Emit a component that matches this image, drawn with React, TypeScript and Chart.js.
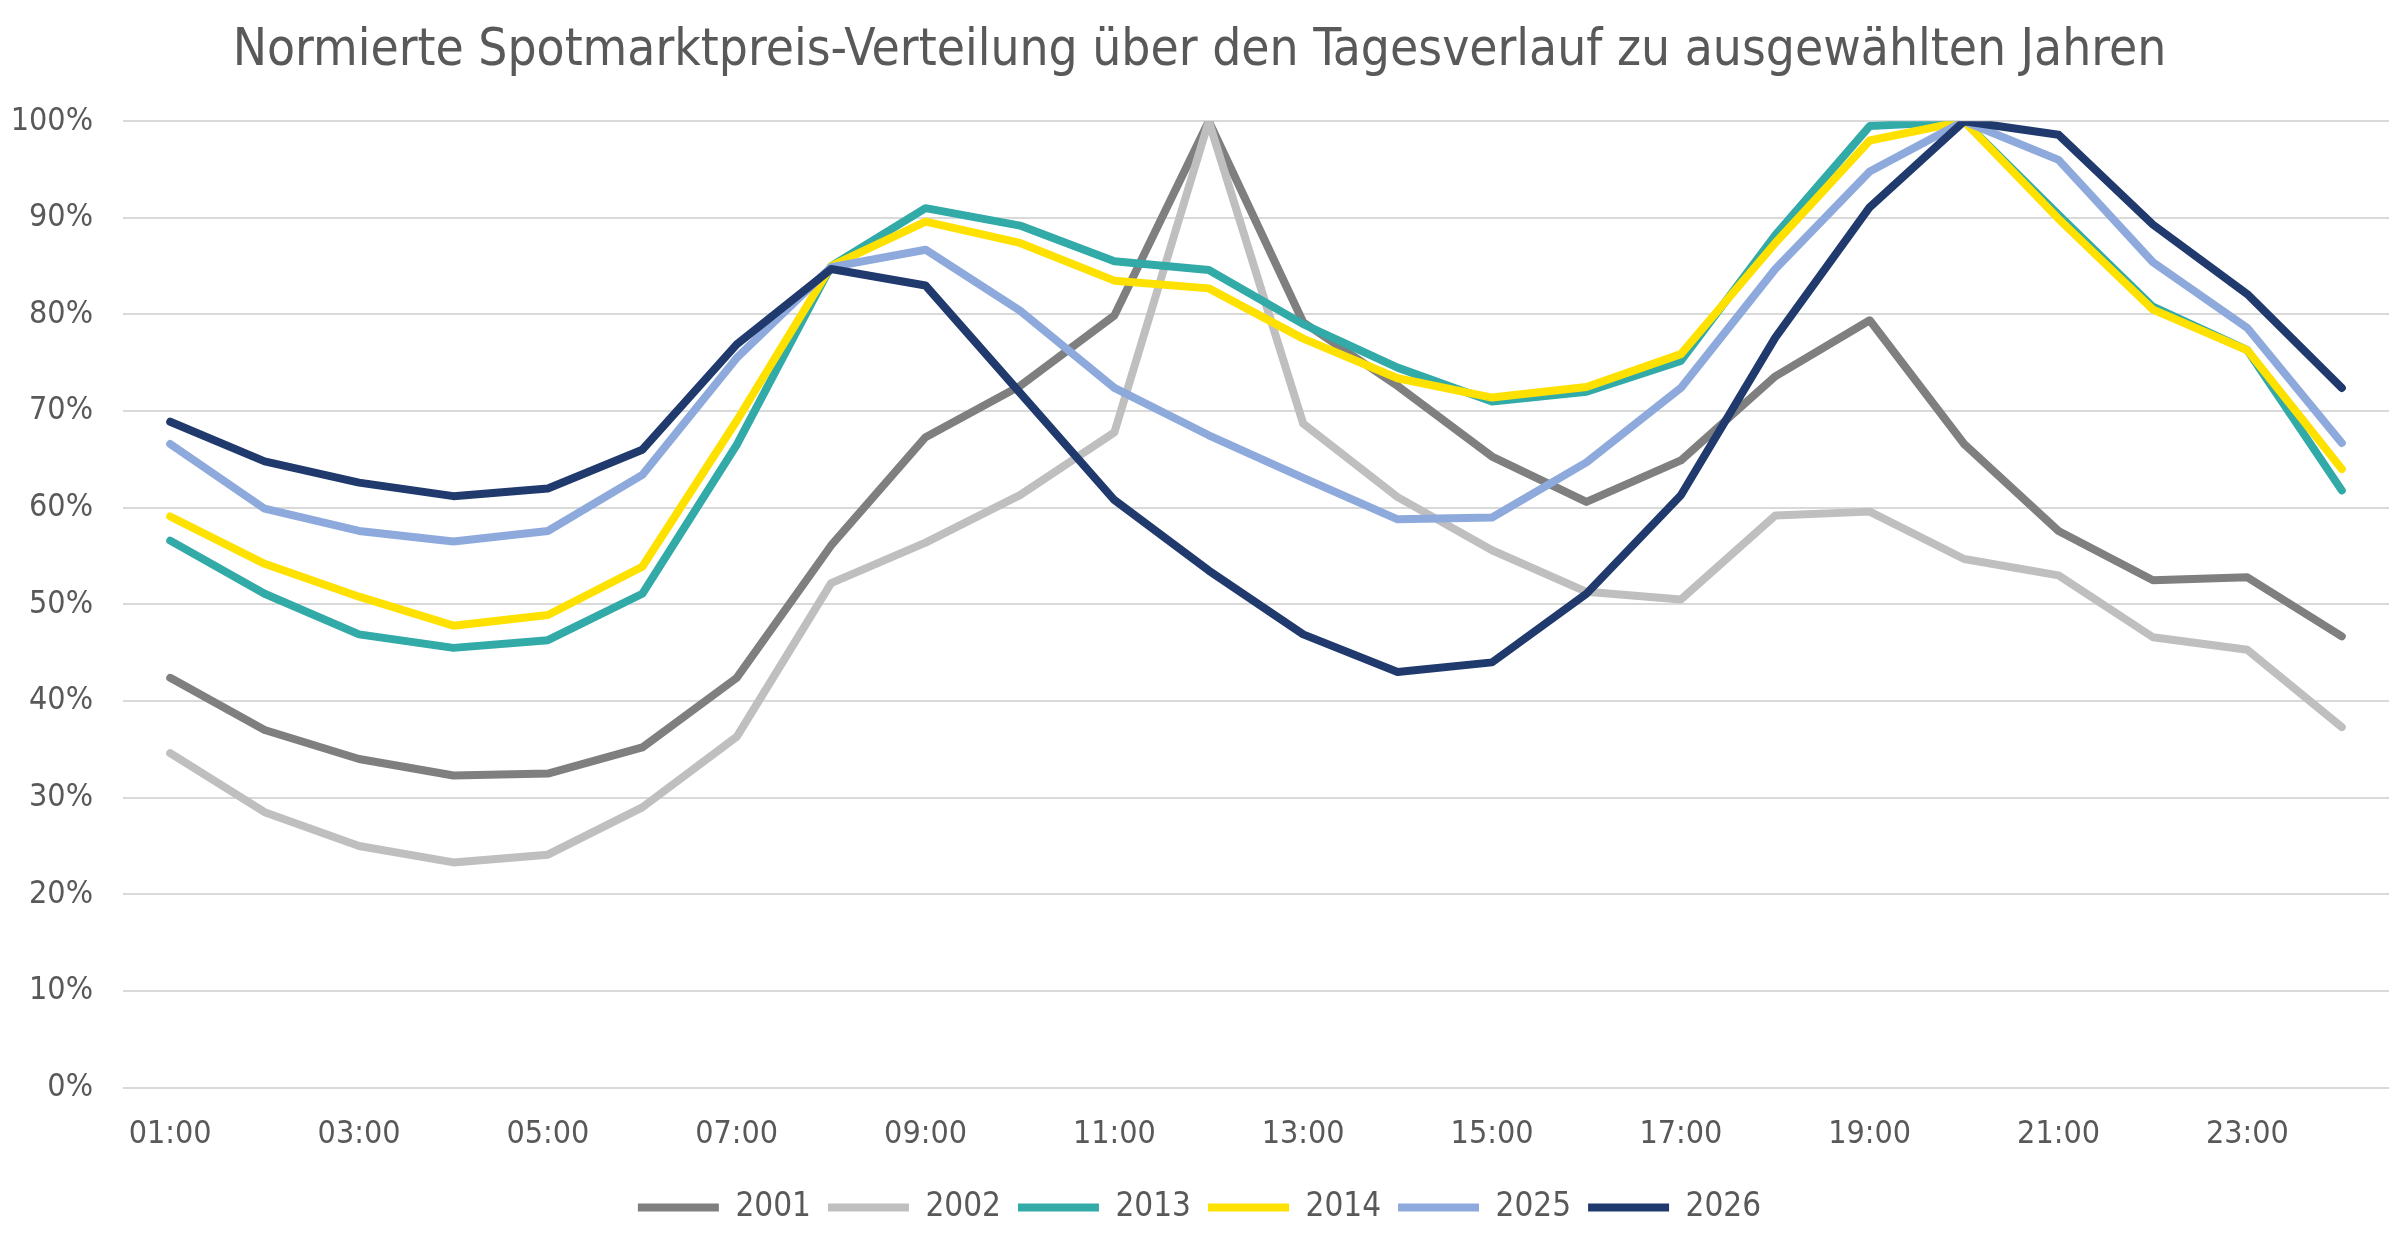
import React, { useEffect, useRef } from "react";
import { Chart, registerables } from "chart.js";

Chart.register(...registerables);

const hours = [
  "01:00", "02:00", "03:00", "04:00", "05:00", "06:00", "07:00", "08:00",
  "09:00", "10:00", "11:00", "12:00", "13:00", "14:00", "15:00", "16:00",
  "17:00", "18:00", "19:00", "20:00", "21:00", "22:00", "23:00", "24:00",
];

const years = ["2001", "2002", "2013", "2014", "2025", "2026"];

const v2001 = [42.4, 37.0, 34.0, 32.3, 32.5, 35.2, 42.4, 56.1, 67.3, 72.6, 79.9, 100, 79.2, 72.6, 65.3, 60.6, 64.9, 73.6, 79.4, 66.6, 57.6, 52.5, 52.8, 46.7];
const v2002 = [34.6, 28.5, 25.0, 23.3, 24.1, 29.0, 36.3, 52.2, 56.4, 61.3, 67.8, 100, 68.7, 61.1, 55.6, 51.3, 50.5, 59.2, 59.6, 54.7, 53.0, 46.6, 45.3, 37.3];
const v2013 = [56.6, 51.1, 46.9, 45.5, 46.3, 51.1, 66.5, 85.0, 91.0, 89.2, 85.5, 84.6, 79.0, 74.5, 71.0, 72.0, 75.2, 88.2, 99.5, 100, 90.3, 80.8, 76.3, 61.8];
const v2014 = [59.1, 54.2, 50.8, 47.8, 48.9, 53.9, 69.0, 85.0, 89.6, 87.4, 83.5, 82.7, 77.5, 73.4, 71.4, 72.5, 75.9, 87.4, 98.0, 100, 89.9, 80.5, 76.3, 64.0];
const v2025 = [66.6, 59.9, 57.6, 56.5, 57.6, 63.4, 75.5, 84.9, 86.7, 80.4, 72.4, 67.5, 63.1, 58.8, 59.0, 64.7, 72.4, 84.7, 94.8, 100, 96.0, 85.4, 78.6, 66.7];
const v2026 = [68.9, 64.8, 62.6, 61.2, 62.0, 66.0, 76.9, 84.7, 83.0, 71.9, 60.8, 53.5, 46.9, 43.0, 44.0, 51.1, 61.3, 77.6, 91.1, 100, 98.6, 89.3, 82.1, 72.4];

const seriesValues = [v2001, v2002, v2013, v2014, v2025, v2026];
const colors = ["#7f7f7f", "#bfbfbf", "#31aaa8", "#ffe100", "#8eaadc", "#203a6e"];

const titleText = "Normierte Spotmarktpreis-Verteilung über den Tagesverlauf zu ausgewählten Jahren";
const FONT = "'DejaVu Sans Condensed', 'DejaVu Sans', sans-serif";
const TEXT_COLOR = "#595959";

export default function App() {
  const canvasRef = useRef<HTMLCanvasElement | null>(null);

  useEffect(() => {
    document.body.style.margin = "0";
    const canvas = canvasRef.current;
    if (!canvas) return;
    const n = years.length;
    const chart = new Chart(canvas, {
      type: "line",
      data: {
        labels: hours,
        datasets: years.map((y, i) => ({
          label: y,
          data: seriesValues[i].map((v) => v / 100),
          borderColor: colors[i],
          backgroundColor: colors[i],
          borderWidth: 8,
          pointRadius: 0,
          pointHoverRadius: 0,
          pointStyle: "line",
          tension: 0,
          fill: false,
          borderCapStyle: "round",
          borderJoinStyle: "round",
          order: n - i,
        })),
      },
      options: {
        responsive: true,
        maintainAspectRatio: false,
        animation: false,
        devicePixelRatio: 1,
        layout: { padding: { left: 10, right: 11, top: 0, bottom: 8 } },
        plugins: {
          title: {
            display: true,
            text: titleText,
            color: TEXT_COLOR,
            font: { family: FONT, size: 51, weight: "normal" },
            padding: { top: 21, bottom: 39 },
          },
          legend: {
            display: true,
            position: "bottom",
            labels: {
              usePointStyle: true,
              pointStyleWidth: 81,
              boxHeight: 9,
              color: TEXT_COLOR,
              font: { family: FONT, size: 33 },
              padding: 17,
              sort: (a: any, b: any) => a.datasetIndex - b.datasetIndex,
            },
          },
          tooltip: { enabled: false },
        },
        scales: {
          x: {
            grid: { display: false },
            border: { display: false },
            offset: true,
            ticks: {
              autoSkip: false,
              maxRotation: 0,
              minRotation: 0,
              padding: 20,
              color: TEXT_COLOR,
              font: { family: FONT, size: 32 },
              callback: (_v: any, i: number) => (i % 2 === 0 ? hours[i] : ""),
            },
          },
          y: {
            min: 0,
            max: 1,
            border: { display: false },
            grid: { color: "#d9d9d9", lineWidth: 2, drawTicks: false },
            afterFit: (scale: any) => {
              scale.width = 113;
            },
            ticks: {
              stepSize: 0.1,
              padding: 30,
              color: TEXT_COLOR,
              font: { family: FONT, size: 32 },
              callback: (v: any) => Math.round(Number(v) * 100) + "%",
            },
          },
        },
      },
    });
    return () => chart.destroy();
  }, []);

  return (
    <div style={{ position: "fixed", left: 0, top: 0, width: 2400, height: 1242, background: "#fff" }}>
      <canvas ref={canvasRef} />
    </div>
  );
}
